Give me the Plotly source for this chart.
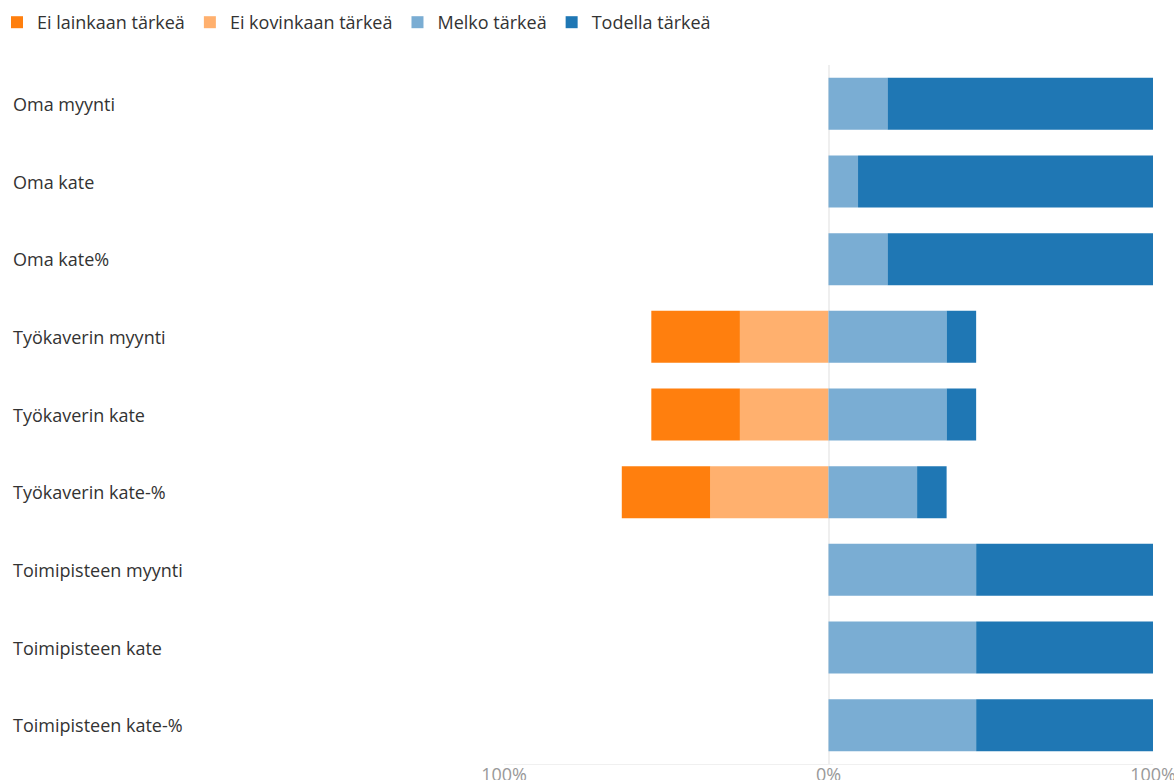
import plotly.graph_objects as go

categories = ["Oma myynti", "Oma kate", "Oma kate%", "Työkaverin myynti", "Työkaverin kate",
              "Työkaverin kate-%", "Toimipisteen myynti", "Toimipisteen kate", "Toimipisteen kate-%"]
ei_lainkaan = [0, 0, 0, 27.3, 27.3, 27.3, 0, 0, 0]
ei_kovinkaan = [0, 0, 0, 27.3, 27.3, 36.4, 0, 0, 0]
melko = [18.2, 9.1, 18.2, 36.4, 36.4, 27.3, 45.5, 45.5, 45.5]
todella = [81.8, 90.9, 81.8, 9.1, 9.1, 9.1, 54.5, 54.5, 54.5]
tick_vals = [-100, 0, 100]
tick_text = ["100%", "0%", "100%"]

W, H = 1174, 780
ML, MR, MT, MB = 504, 21, 65, 16
pw = W - ML - MR
ph = H - MT - MB
FONT = "Open Sans, sans-serif"

fig = go.Figure()
fig.add_bar(y=categories, x=[-v for v in ei_kovinkaan], name="Ei kovinkaan tärkeä", orientation="h",
            marker=dict(color="#ffb06e", line=dict(width=0)), legendrank=2)
fig.add_bar(y=categories, x=[-v for v in ei_lainkaan], name="Ei lainkaan tärkeä", orientation="h",
            marker=dict(color="#ff7f0e", line=dict(width=0)), legendrank=1)
fig.add_bar(y=categories, x=melko, name="Melko tärkeä", orientation="h",
            marker=dict(color="#7aadd3", line=dict(width=0)), legendrank=3)
fig.add_bar(y=categories, x=todella, name="Todella tärkeä", orientation="h",
            marker=dict(color="#1f77b4", line=dict(width=0)), legendrank=4)

for c in categories:
    fig.add_annotation(x=-(ML - 12) / pw, xref="paper", y=c, yref="y", text=c, showarrow=False,
                       xanchor="left", yanchor="middle", borderpad=0,
                       font=dict(family=FONT, size=18, color="#333333"))

fig.update_layout(
    width=W, height=H,
    margin=dict(l=ML, r=MR, t=MT, b=MB, autoexpand=False),
    barmode="relative", bargap=0.33,
    plot_bgcolor="white", paper_bgcolor="white",
    font=dict(family=FONT, color="#444444"),
    legend=dict(orientation="h", x=-(ML + 3) / pw, xanchor="left",
                y=1 + (MT - 4) / ph, yanchor="top", font=dict(size=18, color="#333333"),
                traceorder="normal", itemwidth=30, bgcolor="rgba(0,0,0,0)"),
    xaxis=dict(range=[-100, 100], tickvals=tick_vals, ticktext=tick_text, showgrid=True,
               gridcolor="#efefef", gridwidth=2, zeroline=False, showline=True,
               linecolor="#f0f0f0", linewidth=1, automargin=False, ticklabelstandoff=-6,
               ticklabeloverflow="allow",
               tickfont=dict(size=18, color="#999999"), fixedrange=True),
    yaxis=dict(autorange="reversed", showticklabels=False, showgrid=False, zeroline=False,
               automargin=False, fixedrange=True),
)

fig.write_html("out.html", config={"responsive": False, "displayModeBar": False},
               post_script="document.body.style.margin='0';document.body.style.overflow='hidden';")
